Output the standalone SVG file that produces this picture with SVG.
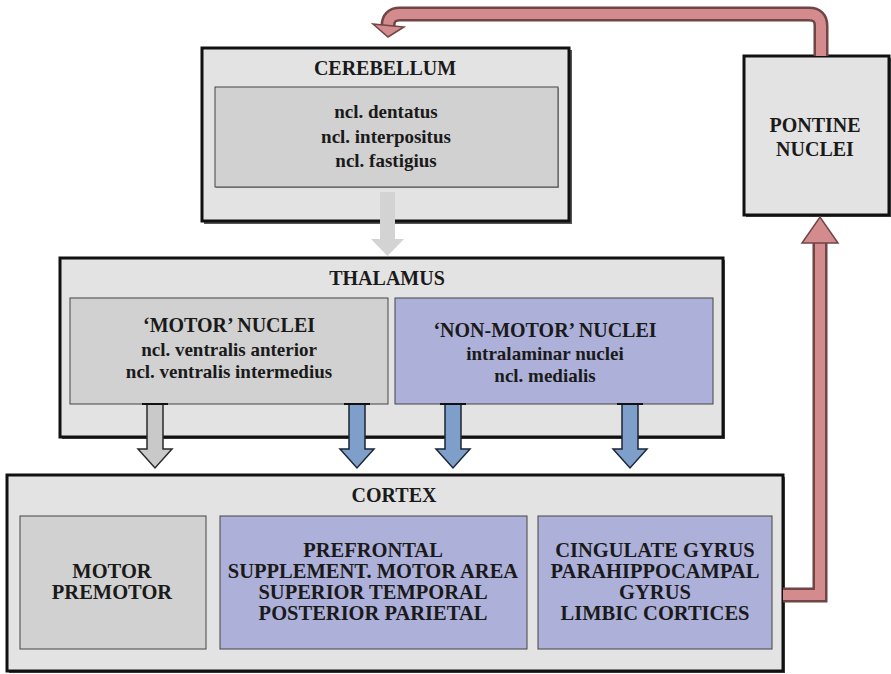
<svg xmlns="http://www.w3.org/2000/svg" width="891" height="674" viewBox="0 0 891 674">
<defs>
<style>
.outer{fill:#e3e3e3;stroke:#111;stroke-width:3}
.gray{fill:#d1d1d1;stroke:#444;stroke-width:1}
.lav{fill:#adb0d9;stroke:#444;stroke-width:1}
.t{font-family:'Liberation Serif','DejaVu Serif',serif;font-weight:bold;fill:#1a1a1a;text-anchor:middle}
.h{font-size:20px}
.s{font-size:19px}
.c{font-size:20.5px}
.blue{fill:#7f9fcb;stroke:#1c2635;stroke-width:1.5}
.garr{fill:#c9c9c9;stroke:#2a2a2a;stroke-width:1.5}
.redo{fill:none;stroke:#6f4546;stroke-width:15}
.redi{fill:none;stroke:#d48b8d;stroke-width:10}
.redh{fill:#d48b8d;stroke:#6f4546;stroke-width:1.5}
</style>
</defs>

<g id="cerebellum">
<rect x="204" y="50" width="368" height="174" fill="#555"/>
<rect class="outer" x="202" y="48" width="367" height="173"/>
<rect x="216" y="88" width="343" height="100" fill="#999"/>
<rect class="gray" x="215" y="87" width="343" height="100"/>
<text class="t h" x="385" y="75">CEREBELLUM</text>
<text class="t s" x="386" y="118">ncl. dentatus</text>
<text class="t s" x="386" y="143">ncl. interpositus</text>
<text class="t s" x="386" y="167">ncl. fastigius</text>
</g>

<g id="pontine">
<rect x="746" y="58" width="145" height="159" fill="#555"/>
<rect class="outer" x="744" y="56" width="145" height="159"/>
<text class="t h" x="815" y="132">PONTINE</text>
<text class="t h" x="815" y="156">NUCLEI</text>
</g>

<g id="thalamus">
<rect x="62" y="260" width="663" height="179" fill="#555"/>
<rect class="outer" x="60" y="258" width="663" height="179"/>
<text class="t h" x="387" y="285">THALAMUS</text>
<g id="motor-nuclei">
<rect class="gray" x="70" y="298" width="318" height="106"/>
<text class="t h" x="229" y="332">‘MOTOR’ NUCLEI</text>
<text class="t s" x="229" y="356">ncl. ventralis anterior</text>
<text class="t s" x="229" y="378">ncl. ventralis intermedius</text>
</g>
<g id="nonmotor-nuclei">
<rect class="lav" x="395" y="298" width="318" height="106"/>
<text class="t h" x="545" y="337">‘NON-MOTOR’ NUCLEI</text>
<text class="t s" x="545" y="360">intralaminar nuclei</text>
<text class="t s" x="545" y="382">ncl. medialis</text>
</g>
</g>

<g id="cortex">
<rect x="9" y="477" width="776" height="196" fill="#555"/>
<rect class="outer" x="7" y="475" width="776" height="196"/>
<text class="t h" x="394" y="502">CORTEX</text>
<g id="motor-cortex">
<rect class="gray" x="20" y="516" width="186" height="133"/>
<text class="t c" x="112" y="578">MOTOR</text>
<text class="t c" x="112" y="599">PREMOTOR</text>
</g>
<g id="association-cortex">
<rect class="lav" x="220" y="516" width="307" height="133"/>
<text class="t c" x="373" y="557">PREFRONTAL</text>
<text class="t c" x="373" y="578">SUPPLEMENT. MOTOR AREA</text>
<text class="t c" x="373" y="599">SUPERIOR TEMPORAL</text>
<text class="t c" x="373" y="620">POSTERIOR PARIETAL</text>
</g>
<g id="limbic-cortex">
<rect class="lav" x="538" y="516" width="234" height="133"/>
<text class="t c" x="655" y="557">CINGULATE GYRUS</text>
<text class="t c" x="655" y="578">PARAHIPPOCAMPAL</text>
<text class="t c" x="655" y="599">GYRUS</text>
<text class="t c" x="655" y="620">LIMBIC CORTICES</text>
</g>
</g>

<g id="connectors">
<polygon fill="#d3d3d3" points="380,192 395,192 395,239 404,239 387.5,256 371,239 380,239"/>
<polygon class="garr" points="147,404 163,404 163,449 172,449 155,468 138,449 147,449"/>
<polygon class="blue" points="349,404 365,404 365,449 374,449 357,468 340,449 349,449"/>
<polygon class="blue" points="445,404 461,404 461,449 470,449 453,468 436,449 445,449"/>
<polygon class="blue" points="622,404 638,404 638,449 647,449 630,468 613,449 622,449"/>
<g stroke="#111" stroke-width="2">
<line x1="142" y1="404" x2="168" y2="404"/>
<line x1="344" y1="404" x2="370" y2="404"/>
<line x1="440" y1="404" x2="466" y2="404"/>
<line x1="617" y1="404" x2="643" y2="404"/>
</g>
<path class="redo" d="M783 595 L820 595 L820 243" stroke-linejoin="miter"/>
<path class="redi" d="M783 595 L820 595 L820 243" stroke-linejoin="miter"/>
<polygon class="redh" points="802,243 838,243 820,217"/>
<path class="redo" d="M821 56 L821 26 Q821 14 809 14 L400 14 Q388 14 388 26"/>
<path class="redi" d="M821 56 L821 26 Q821 14 809 14 L400 14 Q388 14 388 26"/>
<polygon class="redh" points="373,24 404,27 388,37"/>
</g>
</svg>
